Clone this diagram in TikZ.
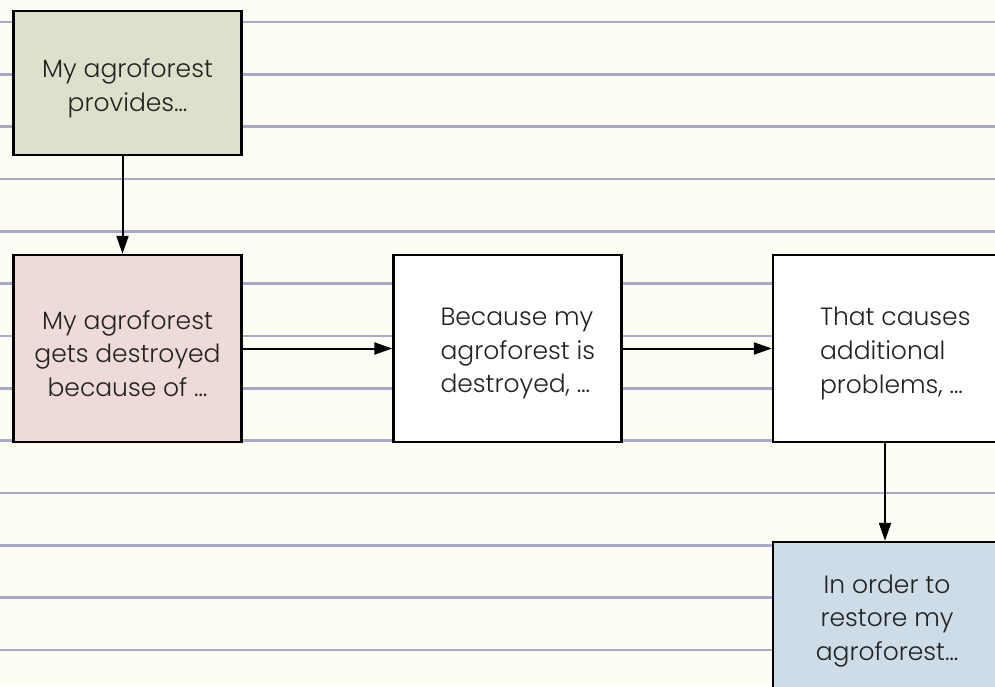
\documentclass[tikz,border=0pt]{standalone}
\usepackage{fontspec}
\IfFontExistsTF{Poppins Light}{\setmainfont{Poppins Light}}{\setmainfont{Poppins}}
\usetikzlibrary{arrows.meta}
\definecolor{paper}{RGB}{253,253,244}
\definecolor{ruled}{RGB}{168,168,202}
\definecolor{gbox}{RGB}{221,224,203}
\definecolor{pbox}{RGB}{238,218,214}
\definecolor{bbox}{RGB}{205,220,230}
\definecolor{ink}{RGB}{34,34,34}
\tikzset{
  card/.style={draw=black, line width=2.4pt, rectangle, inner sep=0pt,
    minimum width=228pt},
  cardtext/.style={inner sep=0pt, text=ink, align=center,
    font=\fontsize{25}{33.7}\selectfont},
  lefttext/.style={cardtext, align=left, anchor=west},
  flow/.style={line width=2pt, -{Triangle[length=18pt,width=12pt]}},
  rule/.style={draw=ruled, line width=2.4pt}
}
\begin{document}
\begin{tikzpicture}[x=1pt,y=-1pt]
\useasboundingbox (0,0) rectangle (995,686);
\clip (0,0) rectangle (995,686);
\fill[paper] (0,0) rectangle (995,686);
\foreach \k in {0,...,12}{
  \draw[rule] (0,{22+52.33*\k}) -- (995,{22+52.33*\k});
}
\node[card, fill=gbox, minimum height=144pt] (g) at (127.5,83) {};
\node[card, fill=pbox, minimum height=187pt] (p) at (127.5,348.5) {};
\node[card, fill=white, minimum height=187pt] (m) at (507.5,348.5) {};
\node[card, fill=white, minimum height=187pt] (r) at (887,348.5) {};
\node[card, fill=bbox, minimum height=154pt] (b) at (887,619) {};
\node[cardtext] (gt) at ([yshift=-5pt]g.center) {My agroforest\\provides…};
\node[cardtext] (pt) at ([yshift=-5pt]p.center) {My agroforest\\gets destroyed\\because of …};
\node[lefttext] (mt) at ([xshift=48pt,yshift=-5pt]m.west) {Because my\\agroforest is\\destroyed, …};
\node[lefttext] (rt) at ([xshift=48pt,yshift=-5pt]r.west) {That causes\\additional\\problems, …};
\node[cardtext] (bt) at ([yshift=-2pt]b.center) {In order to\\restore my\\agroforest…};
\draw[flow] ([xshift=-5pt]g.south) -- ([xshift=-5pt]p.north);
\draw[flow] (p.east) -- (m.west);
\draw[flow] (m.east) -- (r.west);
\draw[flow] ([xshift=-2pt]r.south) -- ([xshift=-2pt]b.north);
\end{tikzpicture}
\end{document}
